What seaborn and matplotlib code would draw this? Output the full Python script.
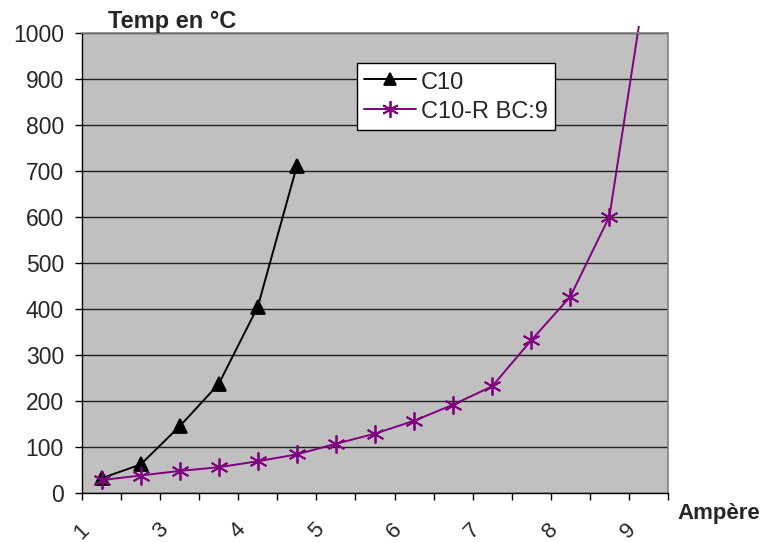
import pandas as pd
import seaborn as sns
import matplotlib.pyplot as plt
from matplotlib.lines import Line2D
from matplotlib.transforms import Bbox, TransformedBbox

# categories on the x axis (15 values), only every other one is labelled
x_labels = ["1", "3", "4", "5", "6", "7", "8", "9"]
n_cat = 15

c10 = [32, 62, 145, 237, 405, 711]
c10r = [28, 38, 48, 56, 69, 84, 107, 129, 157, 192, 232, 332, 427, 601, 1150]

names = ["C10", "C10-R BC:9"]
colors = {"C10": "black", "C10-R BC:9": "#800080"}
marks = {"C10": "^", "C10-R BC:9": (6, 2, 0)}
msize = {"C10": 10, "C10-R BC:9": 13}

df = pd.DataFrame({
    "pos": list(range(len(c10))) + list(range(len(c10r))),
    "temp": c10 + c10r,
    "serie": [names[0]] * len(c10) + [names[1]] * len(c10r),
})

sns.set_style("white")
plt.rcParams["font.family"] = ["Liberation Sans", "DejaVu Sans"]

fig = plt.figure(figsize=(7.64, 5.42), dpi=100)
ax = fig.add_axes([82 / 764, 49 / 542, 586 / 764, 460 / 542])
ax.set_facecolor("#c0c0c0")

for n in names:
    sns.lineplot(data=df[df["serie"] == n], x="pos", y="temp", color=colors[n],
                 marker=marks[n], markersize=msize[n], linewidth=1.4, ax=ax)

clip = TransformedBbox(Bbox([[0, 0], [1, 1.015]]), ax.transAxes)
for ln in ax.lines:
    ln.set_markeredgecolor(ln.get_color())
    ln.set_markeredgewidth(1.3)
    ln.set_clip_box(clip)

ax.set_xlim(-0.5, n_cat - 0.5)
ax.set_ylim(0, 1000)
ax.set_yticks(range(0, 1001, 100))
ax.yaxis.grid(True, color="#202020", linewidth=1)
ax.set_axisbelow(True)

ax.set_xticks([i - 0.5 for i in range(0, n_cat, 2)])
ax.set_xticklabels(x_labels, rotation=45, ha="center", va="top")
ax.set_xticks([i - 0.5 for i in range(n_cat + 1)], minor=True)
ax.tick_params(axis="x", which="both", direction="out", length=5, width=1,
               color="black", bottom=True, pad=14, labelsize=16)
ax.tick_params(axis="y", direction="out", length=5, width=1, color="black",
               left=True, pad=8, labelsize=16.5)

ax.set_xlabel("")
ax.set_ylabel("")
for side in ["top", "right"]:
    ax.spines[side].set_color("#808080")
    ax.spines[side].set_linewidth(1.2)
for side in ["left", "bottom"]:
    ax.spines[side].set_color("black")
    ax.spines[side].set_linewidth(1)

fig.text(108 / 764, 1 - 28 / 542, "Temp en °C", fontsize=17, fontweight="bold",
         ha="left", va="baseline")
fig.text(677 / 764, 1 - 519 / 542, "Ampère", fontsize=16, fontweight="bold",
         ha="left", va="baseline")

handles = [Line2D([], [], color=colors[n], marker=marks[n], markersize=msize[n] - 1,
                  markeredgecolor=colors[n], markeredgewidth=1.3, linewidth=1.4)
           for n in names]
leg = ax.legend(handles, names, loc="upper left", bbox_to_anchor=(0.469, 0.935),
                borderaxespad=0, fontsize=17, frameon=True, fancybox=False,
                framealpha=1, edgecolor="black", handlelength=2.2,
                handletextpad=0.2, borderpad=0.3, labelspacing=0.25,
                handleheight=1.0)
leg.get_frame().set_linewidth(1)

fig.savefig("out.png", dpi=100)
